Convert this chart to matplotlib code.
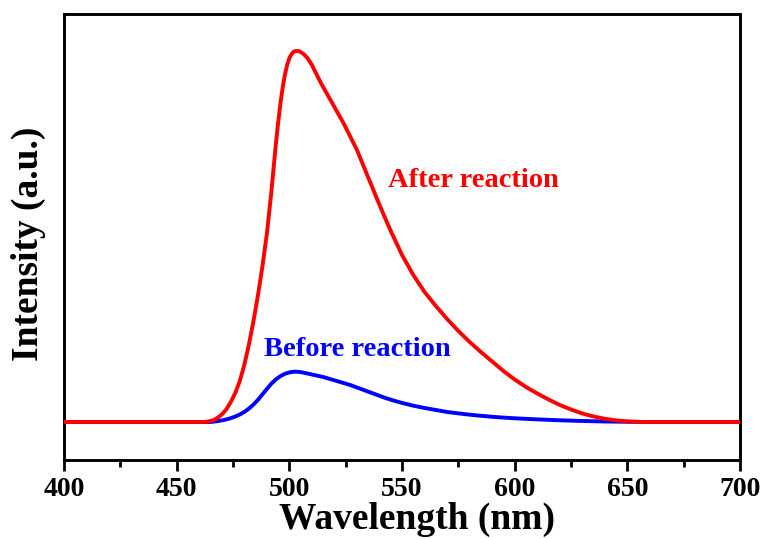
import matplotlib
matplotlib.use("Agg")
import matplotlib.pyplot as plt
from matplotlib.ticker import MultipleLocator

# emission spectra (arbitrary units)
wl_after = [400, 462, 464, 466, 468, 470, 472, 474, 476, 478, 480, 482, 484,
            486, 488, 490, 492, 494, 495, 496, 497, 498, 499, 500, 501, 502,
            503, 504, 505, 506, 507, 508, 510, 512, 514, 516, 518, 520, 522,
            524, 526, 528, 530, 533, 536, 539, 542, 545, 550, 555, 560, 565,
            570, 575, 580, 585, 590, 595, 600, 605, 610, 615, 620, 625, 630,
            635, 640, 645, 650, 656, 700]
i_after = [0, 0, 0.5, 1.5, 4, 7.5, 12.5, 20, 29, 41, 57, 77, 100,
           126, 155, 188, 230, 278, 299, 318, 334, 347, 357, 364, 368, 370.5,
           371, 371, 370, 368.5, 366.5, 364, 357, 348, 339, 331, 323, 315, 307,
           299, 290, 281, 272, 255.5, 239, 222.5, 206.5, 191, 167, 147, 130, 116,
           103, 91, 80, 70, 60.5, 51, 42.5, 35, 28.5, 22.5, 17, 12.5, 8.5,
           5.5, 3.2, 1.6, 0.6, 0, 0]

wl_before = [400, 465, 468, 471, 474, 476, 478, 480, 482, 484, 486, 488, 490,
             492, 494, 496, 498, 500, 502, 504, 506, 509, 512, 515, 518, 521,
             524, 527, 530, 533, 536, 539, 542, 545, 548, 551, 555, 560, 565,
             570, 575, 580, 585, 590, 595, 600, 610, 620, 630, 640, 650, 660,
             700]
i_before = [0, 0, 0.8, 2, 3.8, 5.5, 7.5, 10, 13.3, 17.3, 22, 27.5, 33,
            38.3, 42.6, 45.8, 48.2, 49.6, 50.3, 50.2, 49.5, 48, 46.5, 45, 43, 41,
            39, 37, 34.5, 32, 29.5, 27, 24.5, 22.3, 20.3, 18.5, 16.3, 14, 12,
            10, 8.6, 7.3, 6.2, 5.2, 4.4, 3.7, 2.6, 1.7, 1.0, 0.5, 0.2, 0,
            0]

xticks = [400, 450, 500, 550, 600, 650, 700]

plt.rcParams["font.family"] = ["Liberation Serif", "DejaVu Serif"]
plt.rcParams["font.weight"] = "bold"

fig = plt.figure(figsize=(7.66, 5.39), dpi=100)
ax = fig.add_axes([0.0836, 0.1466, 0.8825, 0.8274])

ax.plot(wl_before, i_before, color="#0000ff", linewidth=2.8, zorder=2)
ax.plot(wl_after, i_after, color="#ff0000", linewidth=2.8, zorder=3)

ax.text(543.8, 242, "After reaction", color="#ff0000", fontsize=20.5,
        fontweight="bold", ha="left", va="center")
ax.text(488.8, 72, "Before reaction", color="#0000ff", fontsize=20.5,
        fontweight="bold", ha="left", va="center")

ax.set_xlim(400, 700)
ax.set_ylim(-38, 408)
ax.set_xticks(xticks)
ax.xaxis.set_minor_locator(MultipleLocator(25))
ax.set_yticks([])

ax.tick_params(axis="x", which="major", direction="out", length=8, width=2,
               labelsize=20, pad=4)
ax.tick_params(axis="x", which="minor", direction="out", length=5, width=2)
for lab in ax.get_xticklabels():
    lab.set_fontweight("bold")

for sp in ax.spines.values():
    sp.set_linewidth(2.1)

ax.set_xlabel("Wavelength (nm)", fontsize=27, fontweight="bold")
ax.set_ylabel("Intensity (a.u.)", fontsize=27, fontweight="bold")
ax.xaxis.set_label_coords(0.522, -0.095)
ax.yaxis.set_label_coords(-0.027, 0.484)

fig.savefig("out.png", dpi=100)
